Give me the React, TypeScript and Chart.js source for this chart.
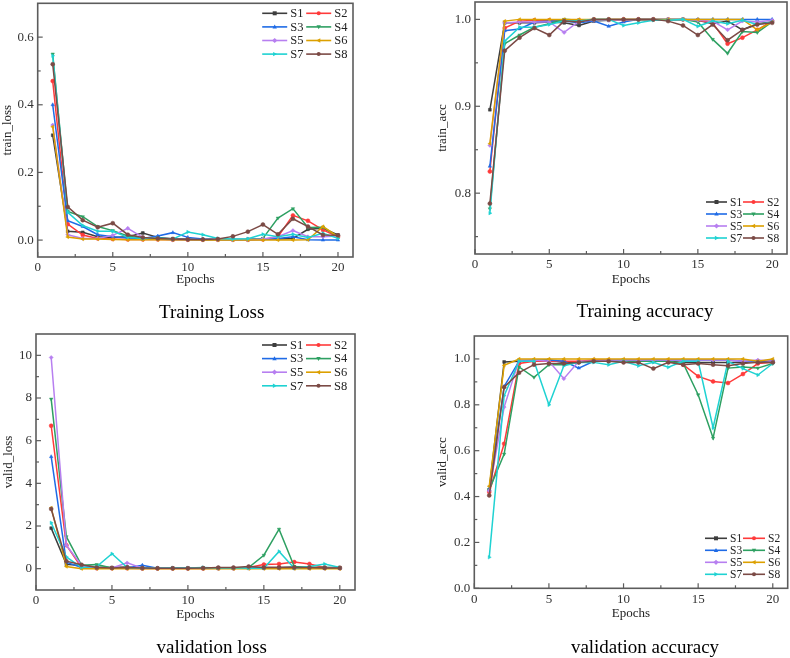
import React, { useEffect, useRef } from "react";
import { Chart, registerables } from "chart.js";
Chart.register(...registerables);

const FONT = "'Liberation Serif', 'Times New Roman', serif";

const epochs = [1, 2, 3, 4, 5, 6, 7, 8, 9, 10, 11, 12, 13, 14, 15, 16, 17, 18, 19, 20];
const seriesNames = ["S1", "S2", "S3", "S4", "S5", "S6", "S7", "S8"];
const seriesColors = ["#3d3d3d", "#ff3a3a", "#1f6be6", "#2ea062", "#b77ff0", "#dca000", "#1fd2d2", "#7b4a45"];
const pointStyles = ["rect", "circle", "triangle", "triangle", "rectRot", "triangle", "triangle", "circle"];
const pointRotations = [0, 0, 0, 180, 0, 270, 90, 0];

const trainLoss: number[][] = [
  [0.31, 0.026, 0.023, 0.01, 0.008, 0.01, 0.021, 0.008, 0.004, 0.003, 0.002, 0.002, 0.002, 0.002, 0.003, 0.003, 0.005, 0.032, 0.035, 0.015],
  [0.47, 0.047, 0.015, 0.005, 0.003, 0.002, 0.002, 0.002, 0.001, 0.001, 0.001, 0.001, 0.001, 0.001, 0.002, 0.01, 0.073, 0.057, 0.03, 0.01],
  [0.40, 0.057, 0.04, 0.016, 0.01, 0.006, 0.005, 0.012, 0.022, 0.008, 0.003, 0.002, 0.002, 0.002, 0.002, 0.005, 0.01, 0.001, 0.0, 0.0],
  [0.55, 0.085, 0.069, 0.04, 0.028, 0.012, 0.005, 0.003, 0.002, 0.002, 0.001, 0.001, 0.001, 0.002, 0.005, 0.065, 0.093, 0.037, 0.038, 0.01],
  [0.34, 0.016, 0.005, 0.005, 0.014, 0.035, 0.008, 0.003, 0.002, 0.002, 0.001, 0.001, 0.001, 0.001, 0.003, 0.01, 0.028, 0.01, 0.01, 0.012],
  [0.335, 0.009, 0.003, 0.003, 0.002, 0.001, 0.001, 0.001, 0.001, 0.001, 0.0, 0.0, 0.0, 0.0, 0.0, 0.0, 0.0, 0.001, 0.04, 0.01],
  [0.545, 0.082, 0.043, 0.026, 0.026, 0.008, 0.005, 0.006, 0.003, 0.024, 0.016, 0.005, 0.003, 0.004, 0.017, 0.01, 0.017, 0.008, 0.02, 0.005],
  [0.52, 0.098, 0.059, 0.038, 0.05, 0.016, 0.008, 0.005, 0.003, 0.002, 0.002, 0.003, 0.011, 0.025, 0.046, 0.017, 0.063, 0.04, 0.015, 0.014],
];

const trainAcc: number[][] = [
  [0.896, 0.996, 0.996, 0.996, 0.997, 0.996, 0.993, 0.998, 0.999, 0.999, 1.0, 1.0, 0.999, 1.0, 0.999, 0.995, 0.998, 0.988, 0.995, 0.997],
  [0.825, 0.99, 0.998, 0.999, 0.999, 0.999, 0.999, 1.0, 1.0, 1.0, 1.0, 1.0, 1.0, 1.0, 0.999, 0.996, 0.972, 0.979, 0.988, 0.998],
  [0.831, 0.987, 0.989, 0.997, 0.998, 0.998, 0.996, 0.998, 0.992, 0.997, 1.0, 1.0, 1.0, 1.0, 1.0, 1.0, 1.0, 1.0, 1.0, 1.0],
  [0.782, 0.972, 0.982, 0.991, 0.995, 1.0, 0.999, 1.0, 1.0, 1.0, 1.0, 1.0, 1.0, 1.0, 0.997, 0.977, 0.961, 0.986, 0.985, 0.997],
  [0.855, 0.996, 0.997, 0.997, 0.997, 0.985, 0.998, 0.999, 0.999, 0.999, 1.0, 1.0, 1.0, 1.0, 0.999, 0.998, 0.988, 0.998, 0.997, 0.999],
  [0.857, 0.998, 1.0, 1.0, 1.0, 1.0, 1.0, 1.0, 1.0, 1.0, 1.0, 1.0, 1.0, 1.0, 1.0, 1.0, 1.0, 1.0, 0.988, 0.997],
  [0.777, 0.975, 0.991, 0.991, 0.994, 0.998, 0.998, 1.0, 1.0, 0.993, 0.996, 0.999, 0.999, 1.0, 0.992, 0.998, 0.995, 0.999, 0.994, 0.997],
  [0.788, 0.964, 0.979, 0.99, 0.982, 0.998, 0.997, 1.0, 1.0, 1.0, 1.0, 1.0, 0.998, 0.993, 0.982, 0.994, 0.976, 0.988, 0.994, 0.996],
];

const validLoss: number[][] = [
  [1.9, 0.2, 0.15, 0.08, 0.05, 0.08, 0.02, 0.02, 0.02, 0.02, 0.02, 0.02, 0.02, 0.03, 0.05, 0.05, 0.08, 0.05, 0.05, 0.05],
  [6.7, 1.1, 0.05, 0.02, 0.02, 0.02, 0.01, 0.01, 0.01, 0.01, 0.01, 0.02, 0.02, 0.05, 0.19, 0.22, 0.31, 0.22, 0.05, 0.03],
  [5.25, 0.3, 0.05, 0.02, 0.03, 0.03, 0.16, 0.02, 0.02, 0.02, 0.02, 0.02, 0.02, 0.02, 0.02, 0.02, 0.02, 0.02, 0.02, 0.02],
  [7.95, 1.5, 0.16, 0.19, 0.03, 0.03, 0.02, 0.02, 0.02, 0.02, 0.02, 0.02, 0.02, 0.05, 0.63, 1.85, 0.1, 0.05, 0.05, 0.03],
  [9.9, 1.1, 0.15, 0.02, 0.03, 0.27, 0.02, 0.02, 0.02, 0.02, 0.02, 0.02, 0.02, 0.02, 0.02, 0.02, 0.02, 0.02, 0.02, 0.02],
  [2.85, 0.1, 0.0, 0.0, 0.0, 0.0, 0.0, 0.0, 0.0, 0.0, 0.0, 0.0, 0.0, 0.0, 0.0, 0.0, 0.0, 0.0, 0.0, 0.0],
  [2.15, 0.55, 0.05, 0.1, 0.7, 0.05, 0.03, 0.02, 0.03, 0.03, 0.06, 0.03, 0.04, 0.02, 0.02, 0.81, 0.02, 0.1, 0.22, 0.05],
  [2.8, 0.35, 0.18, 0.05, 0.03, 0.05, 0.03, 0.02, 0.02, 0.02, 0.03, 0.05, 0.05, 0.1, 0.05, 0.05, 0.05, 0.05, 0.03, 0.03],
];

const validAcc: number[][] = [
  [0.43, 0.987, 0.99, 0.99, 0.995, 0.985, 0.985, 0.99, 0.99, 0.995, 0.99, 0.99, 0.99, 0.985, 0.985, 0.985, 0.985, 0.985, 0.99, 0.99],
  [0.42, 0.63, 0.98, 0.99, 0.99, 0.99, 0.99, 0.995, 0.995, 0.99, 0.99, 0.99, 0.99, 0.975, 0.924, 0.902, 0.895, 0.934, 0.98, 0.985],
  [0.43, 0.88, 0.99, 0.995, 0.995, 0.99, 0.96, 0.99, 0.995, 0.995, 0.995, 0.995, 0.995, 0.995, 0.995, 0.995, 0.995, 0.99, 0.99, 0.995],
  [0.43, 0.585, 0.965, 0.92, 0.975, 0.975, 0.985, 0.99, 0.99, 0.99, 0.99, 0.99, 0.99, 0.98, 0.844, 0.655, 0.96, 0.965, 0.96, 0.98],
  [0.425, 0.79, 0.995, 0.995, 0.99, 0.914, 0.99, 0.99, 0.995, 0.995, 0.995, 0.995, 0.995, 0.995, 0.995, 0.995, 0.995, 0.99, 0.995, 0.99],
  [0.445, 0.972, 1.0, 1.0, 1.0, 1.0, 1.0, 1.0, 1.0, 1.0, 1.0, 1.0, 1.0, 1.0, 1.0, 1.0, 1.0, 1.0, 0.99, 1.0],
  [0.135, 0.84, 0.99, 0.99, 0.80, 0.97, 0.985, 0.985, 0.975, 0.99, 0.97, 0.985, 0.964, 0.99, 0.99, 0.70, 0.99, 0.958, 0.93, 0.98],
  [0.405, 0.877, 0.94, 0.975, 0.98, 0.98, 0.985, 0.99, 0.99, 0.985, 0.985, 0.958, 0.985, 0.975, 0.98, 0.975, 0.97, 0.98, 0.985, 0.985],
];

const epochTicks = [0, 5, 10, 15, 20];
const epochMinor = [2.5, 7.5, 12.5, 17.5];
const trainLossTicks = [0, 0.2, 0.4, 0.6];
const trainLossMinor = [0.1, 0.3, 0.5];
const trainAccTicks = [0.8, 0.9, 1.0];
const trainAccMinor = [0.75, 0.85, 0.95];
const validLossTicks = [0, 2, 4, 6, 8, 10];
const validLossMinor = [1, 3, 5, 7, 9];
const validAccTicks = [0, 0.2, 0.4, 0.6, 0.8, 1.0];
const validAccMinor = [0.1, 0.3, 0.5, 0.7, 0.9];

type PanelCfg = {
  key: string;
  series: number[][];
  yTitle: string;
  yMin: number;
  yMax: number;
  yTicks: number[];
  yMinor: number[];
  yDecimals: number;
  area: { left: number; top: number; right: number; bottom: number };
  yW: number;
  xH: number;
  legend: { dx: number; dy: number; rowH: number; lineLen: number; textGap: number; colGap: number; fontSize: number };
};

const panels: PanelCfg[] = [
  {
    key: "tl", series: trainLoss, yTitle: "train_loss", yMin: -0.05, yMax: 0.7,
    yTicks: trainLossTicks, yMinor: trainLossMinor, yDecimals: 1,
    area: { left: 37.7, top: 3.3, right: 353, bottom: 257 }, yW: 37.5, xH: 30.8,
    legend: { dx: 224.5, dy: 10, rowH: 13.6, lineLen: 25, textGap: 28, colGap: 44, fontSize: 12.5 },
  },
  {
    key: "ta", series: trainAcc, yTitle: "train_acc", yMin: 0.73, yMax: 1.02,
    yTicks: trainAccTicks, yMinor: trainAccMinor, yDecimals: 1,
    area: { left: 475, top: 2, right: 787, bottom: 254 }, yW: 39.8, xH: 33.1,
    legend: { dx: 231, dy: 200, rowH: 12, lineLen: 21, textGap: 24, colGap: 37, fontSize: 11.5 },
  },
  {
    key: "vl", series: validLoss, yTitle: "valid_loss", yMin: -1, yMax: 11,
    yTicks: validLossTicks, yMinor: validLossMinor, yDecimals: 0,
    area: { left: 36, top: 334, right: 355, bottom: 590 }, yW: 35.3, xH: 32.1,
    legend: { dx: 226, dy: 11, rowH: 13.6, lineLen: 25, textGap: 28, colGap: 44, fontSize: 12.5 },
  },
  {
    key: "va", series: validAcc, yTitle: "valid_acc", yMin: 0, yMax: 1.1,
    yTicks: validAccTicks, yMinor: validAccMinor, yDecimals: 1,
    area: { left: 474.3, top: 336, right: 787.7, bottom: 588.3 }, yW: 39.1, xH: 32.8,
    legend: { dx: 230.7, dy: 202.3, rowH: 12, lineLen: 22, textGap: 25, colGap: 38, fontSize: 11.5 },
  },
];

const captions = [
  { text: "Training Loss", cx: 211.7, baseline: 317.8 },
  { text: "Training accuracy", cx: 645, baseline: 317.2 },
  { text: "validation loss", cx: 211.7, baseline: 652.6 },
  { text: "validation accuracy", cx: 645, baseline: 652.4 },
];

function drawMarker(ctx: CanvasRenderingContext2D, style: string, rot: number, x: number, y: number, r: number, color: string) {
  ctx.save();
  ctx.translate(x, y);
  ctx.rotate((rot * Math.PI) / 180);
  ctx.fillStyle = color;
  ctx.beginPath();
  if (style === "rect") {
    ctx.rect(-r, -r, 2 * r, 2 * r);
  } else if (style === "circle") {
    ctx.arc(0, 0, r, 0, Math.PI * 2);
  } else if (style === "triangle") {
    ctx.moveTo(0, -r * 1.2);
    ctx.lineTo(r * 1.1, r * 0.8);
    ctx.lineTo(-r * 1.1, r * 0.8);
    ctx.closePath();
  } else {
    ctx.moveTo(0, -r * 1.3);
    ctx.lineTo(r * 1.3, 0);
    ctx.lineTo(0, r * 1.3);
    ctx.lineTo(-r * 1.3, 0);
    ctx.closePath();
  }
  ctx.fill();
  ctx.restore();
}

const innerLegend = {
  id: "innerLegend",
  afterDraw(chart: any, _args: any, opts: any) {
    const { ctx, chartArea } = chart;
    ctx.save();
    chart.data.datasets.forEach((ds: any, i: number) => {
      const col = i % 2;
      const row = Math.floor(i / 2);
      const x0 = chartArea.left + opts.dx + col * opts.colGap;
      const y = chartArea.top + opts.dy + row * opts.rowH;
      ctx.strokeStyle = ds.borderColor;
      ctx.lineWidth = 1.6;
      ctx.beginPath();
      ctx.moveTo(x0, y);
      ctx.lineTo(x0 + opts.lineLen, y);
      ctx.stroke();
      drawMarker(ctx, pointStyles[i], pointRotations[i], x0 + opts.lineLen / 2, y, 2, ds.borderColor);
      ctx.fillStyle = "#222";
      ctx.font = `${opts.fontSize}px ${FONT}`;
      ctx.textBaseline = "middle";
      ctx.textAlign = "left";
      ctx.fillText(ds.label, x0 + opts.textGap, y + 0.5);
    });
    ctx.restore();
  },
};

const frameTicks = {
  id: "frameTicks",
  afterDatasetsDraw(chart: any, _args: any, opts: any) {
    const { ctx, chartArea: a, scales } = chart;
    ctx.save();
    ctx.strokeStyle = "#5c5c5c";
    ctx.lineWidth = 1.2;
    const ys = scales.y;
    const xs = scales.x;
    const yTick = (v: number, len: number) => {
      const p = ys.getPixelForValue(v);
      ctx.beginPath();
      ctx.moveTo(a.left, p);
      ctx.lineTo(a.left + len, p);
      ctx.stroke();
    };
    const xTick = (v: number, len: number) => {
      const p = xs.getPixelForValue(v);
      ctx.beginPath();
      ctx.moveTo(p, a.bottom);
      ctx.lineTo(p, a.bottom - len);
      ctx.stroke();
    };
    opts.yMajor.forEach((v: number) => yTick(v, 5));
    opts.yMinor.forEach((v: number) => yTick(v, 3));
    opts.xMajor.forEach((v: number) => xTick(v, 5));
    opts.xMinor.forEach((v: number) => xTick(v, 3));
    ctx.lineWidth = 1.6;
    ctx.strokeRect(a.left, a.top, a.right - a.left, a.bottom - a.top);
    ctx.restore();
  },
};

function Panel({ cfg }: { cfg: PanelCfg }) {
  const ref = useRef<HTMLCanvasElement>(null);
  const m = 14;
  const cl = Math.floor(cfg.area.left - cfg.yW - m);
  const ct = Math.floor(cfg.area.top - m);
  const cw = Math.ceil(cfg.area.right + m) - cl;
  const ch = Math.ceil(cfg.area.bottom + cfg.xH + m) - ct;
  const pad = {
    left: cfg.area.left - cfg.yW - cl,
    top: cfg.area.top - ct,
    right: cl + cw - cfg.area.right,
    bottom: ct + ch - cfg.area.bottom - cfg.xH,
  };

  useEffect(() => {
    const datasets = cfg.series.map((vals, i) => ({
      label: seriesNames[i],
      data: epochs.map((e, k) => ({ x: e, y: vals[k] })),
      borderColor: seriesColors[i],
      backgroundColor: seriesColors[i],
      pointBackgroundColor: seriesColors[i],
      pointBorderColor: seriesColors[i],
      pointStyle: pointStyles[i],
      pointRotation: pointRotations[i],
      pointRadius: 2,
      pointBorderWidth: 0.5,
      borderWidth: 1.5,
      tension: 0,
      order: 8 - i,
    }));
    const chart = new Chart(ref.current!, {
      type: "line",
      data: { datasets } as any,
      plugins: [frameTicks, innerLegend] as any,
      options: {
        responsive: false,
        animation: false,
        events: [],
        layout: { padding: pad },
        plugins: {
          legend: { display: false },
          tooltip: { enabled: false },
          frameTicks: { yMajor: cfg.yTicks, yMinor: cfg.yMinor, xMajor: epochTicks, xMinor: epochMinor },
          innerLegend: cfg.legend,
        } as any,
        scales: {
          x: {
            type: "linear",
            min: 0,
            max: 21,
            afterBuildTicks: (s: any) => { s.ticks = epochTicks.map((v) => ({ value: v })); },
            afterFit: (s: any) => { s.height = cfg.xH; },
            grid: { display: false, drawTicks: false },
            border: { display: false },
            ticks: {
              padding: 3,
              color: "#333",
              font: { family: FONT, size: 13 },
              maxRotation: 0,
              autoSkip: false,
              callback: (v: any) => String(v),
            },
            title: { display: true, text: "Epochs", color: "#222", font: { family: FONT, size: 13 }, padding: 0 },
          },
          y: {
            type: "linear",
            min: cfg.yMin,
            max: cfg.yMax,
            afterBuildTicks: (s: any) => { s.ticks = cfg.yTicks.map((v) => ({ value: v })); },
            afterFit: (s: any) => { s.width = cfg.yW; },
            grid: { display: false, drawTicks: false },
            border: { display: false },
            ticks: {
              padding: 4,
              color: "#333",
              font: { family: FONT, size: 13 },
              autoSkip: false,
              callback: (v: any) => Number(v).toFixed(cfg.yDecimals),
            },
            title: { display: true, text: cfg.yTitle, color: "#222", font: { family: FONT, size: 13 }, padding: 0 },
          },
        },
      } as any,
    });
    return () => chart.destroy();
  }, []);

  return (
    <canvas
      ref={ref}
      width={cw}
      height={ch}
      style={{ position: "absolute", left: cl, top: ct, width: cw, height: ch }}
    />
  );
}

export default function App() {
  return (
    <div style={{ position: "absolute", left: 0, top: 0, width: 790, height: 658, overflow: "hidden", background: "#fff" }}>
      {panels.map((p) => (
        <Panel key={p.key} cfg={p} />
      ))}
      {captions.map((c) => (
        <div
          key={c.text}
          style={{
            position: "absolute",
            left: c.cx - 150,
            width: 300,
            top: c.baseline - 15.9,
            textAlign: "center",
            fontFamily: FONT,
            fontSize: 19,
            lineHeight: "19px",
            color: "#000",
            whiteSpace: "nowrap",
          }}
        >
          {c.text}
        </div>
      ))}
    </div>
  );
}
